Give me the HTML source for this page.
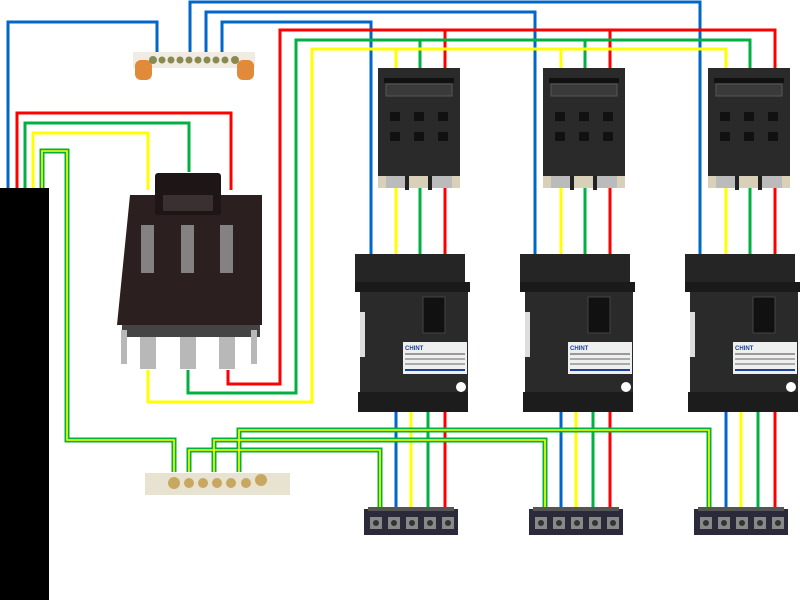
<!DOCTYPE html>
<html><head><meta charset="utf-8"><style>
html,body{margin:0;padding:0;background:#fff;width:800px;height:600px;overflow:hidden}
svg{display:block}
</style></head><body>
<svg width="800" height="600" viewBox="0 0 800 600" xmlns="http://www.w3.org/2000/svg" font-family="Liberation Sans, sans-serif">
<defs>
<g id="fuse">
  <rect x="0" y="0" width="82" height="108" fill="#2a2a2a"/>
  <rect x="6" y="10" width="70" height="5" fill="#111"/>
  <rect x="8" y="16" width="66" height="12" fill="#3a3a3a" stroke="#555"/>
  <g fill="#111">
    <rect x="12" y="44" width="10" height="9"/><rect x="36" y="44" width="10" height="9"/><rect x="60" y="44" width="10" height="9"/>
    <rect x="12" y="64" width="10" height="9"/><rect x="36" y="64" width="10" height="9"/><rect x="60" y="64" width="10" height="9"/>
  </g>
  <rect x="0" y="108" width="82" height="12" fill="#d8d0b8"/>
  <rect x="8" y="108" width="22" height="12" fill="#bbb"/>
  <rect x="52" y="108" width="22" height="12" fill="#bbb"/>
  <rect x="27" y="108" width="4" height="14" fill="#222"/><rect x="50" y="108" width="4" height="14" fill="#222"/>
</g>
<g id="rcd">
  <rect x="0" y="2" width="110" height="28" fill="#252525"/>
  <rect x="0" y="30" width="115" height="10" fill="#1a1a1a"/>
  <rect x="5" y="40" width="108" height="115" fill="#2a2a2a"/>
  <rect x="3" y="140" width="110" height="20" fill="#1c1c1c"/>
  <rect x="5" y="60" width="5" height="45" fill="#ddd"/>
  <rect x="68" y="45" width="22" height="36" fill="#111" stroke="#444"/>
  <rect x="48" y="90" width="64" height="32" fill="#eef0f0"/>
  <text x="50" y="98" font-size="6" fill="#1a3ea0" font-weight="bold">CHINT</text>
  <rect x="50" y="101" width="60" height="2" fill="#999"/><rect x="50" y="106" width="60" height="2" fill="#aaa"/>
  <rect x="50" y="111" width="60" height="2" fill="#aaa"/><rect x="50" y="117" width="60" height="2" fill="#2040a0"/>
  <circle cx="106" cy="135" r="5" fill="#fff"/>
</g>
<g id="tb">
  <rect x="0" y="2" width="94" height="26" fill="#2a2a3a"/>
  <rect x="4" y="0" width="86" height="4" fill="#555"/>
  <g fill="#888"><rect x="6" y="10" width="12" height="12"/><rect x="24" y="10" width="12" height="12"/><rect x="42" y="10" width="12" height="12"/><rect x="60" y="10" width="12" height="12"/><rect x="78" y="10" width="12" height="12"/></g>
  <g fill="#333"><circle cx="12" cy="16" r="3"/><circle cx="30" cy="16" r="3"/><circle cx="48" cy="16" r="3"/><circle cx="66" cy="16" r="3"/><circle cx="84" cy="16" r="3"/></g>
</g>
</defs>

<!-- wires -->
<g fill="none" stroke-width="3" stroke-linejoin="miter">
  <!-- blue -->
  <g stroke="#0066c8">
    <polyline points="8,190 8,22 157,22 157,52"/>
    <polyline points="190,52 190,2 700,2 700,255"/>
    <polyline points="206,52 206,12 535,12 535,255"/>
    <polyline points="222,52 222,22 371,22 371,255"/>
    <line x1="396" y1="412" x2="396" y2="508"/><line x1="561" y1="412" x2="561" y2="508"/><line x1="726" y1="412" x2="726" y2="508"/>
  </g>
  <!-- red -->
  <g stroke="#ff0000">
    <polyline points="17,190 17,113 231,113 231,190"/>
    <polyline points="228,370 228,384 280,384 280,30 775,30 775,68"/>
    <line x1="445" y1="30" x2="445" y2="68"/><line x1="610" y1="30" x2="610" y2="68"/>
    <line x1="445" y1="188" x2="445" y2="255"/><line x1="610" y1="188" x2="610" y2="255"/><line x1="775" y1="188" x2="775" y2="255"/>
    <line x1="445" y1="412" x2="445" y2="508"/><line x1="610" y1="412" x2="610" y2="508"/><line x1="775" y1="412" x2="775" y2="508"/>
  </g>
  <!-- green -->
  <g stroke="#00b040">
    <polyline points="25,190 25,123 189,123 189,172"/>
    <polyline points="188,370 188,393 296,393 296,40 750,40 750,68"/>
    <line x1="420" y1="40" x2="420" y2="68"/><line x1="585" y1="40" x2="585" y2="68"/>
    <line x1="420" y1="188" x2="420" y2="255"/><line x1="585" y1="188" x2="585" y2="255"/><line x1="750" y1="188" x2="750" y2="255"/>
    <line x1="428" y1="412" x2="428" y2="508"/><line x1="593" y1="412" x2="593" y2="508"/><line x1="758" y1="412" x2="758" y2="508"/>
  </g>
  <!-- yellow -->
  <g stroke="#ffff00">
    <polyline points="33,190 33,133 148,133 148,190"/>
    <polyline points="148,370 148,402 312,402 312,49 726,49 726,68"/>
    <line x1="396" y1="49" x2="396" y2="68"/><line x1="561" y1="49" x2="561" y2="68"/>
    <line x1="396" y1="188" x2="396" y2="255"/><line x1="561" y1="188" x2="561" y2="255"/><line x1="726" y1="188" x2="726" y2="255"/>
    <line x1="411" y1="412" x2="411" y2="508"/><line x1="576" y1="412" x2="576" y2="508"/><line x1="741" y1="412" x2="741" y2="508"/>
  </g>
</g>
<!-- PE green/yellow -->
<g fill="none" stroke-linejoin="miter">
  <g stroke="#00b040" stroke-width="5">
    <polyline points="42,190 42,151 67,151 67,440 174,440 174,472"/>
    <polyline points="189,472 189,450 380,450 380,508"/>
    <polyline points="214,472 214,440 545,440 545,508"/>
    <polyline points="239,472 239,430 709,430 709,508"/>
  </g>
  <g stroke="#ffff00" stroke-width="1.6">
    <polyline points="42,190 42,151 67,151 67,440 174,440 174,472"/>
    <polyline points="189,472 189,450 380,450 380,508"/>
    <polyline points="214,472 214,440 545,440 545,508"/>
    <polyline points="239,472 239,430 709,430 709,508"/>
  </g>
</g>

<!-- black block -->
<rect x="0" y="188" width="49" height="412" fill="#000"/>

<!-- top busbar -->
<rect x="133" y="52" width="122" height="16" fill="#f0ece4"/>
<g fill="#e08a3a"><rect x="135" y="60" width="17" height="20" rx="6"/><rect x="237" y="60" width="17" height="20" rx="6"/></g>
<g fill="#8a8a50"><circle cx="153" cy="60" r="4"/><circle cx="162" cy="60" r="3.5"/><circle cx="171" cy="60" r="3.5"/><circle cx="180" cy="60" r="3.5"/><circle cx="189" cy="60" r="3.5"/><circle cx="198" cy="60" r="3.5"/><circle cx="207" cy="60" r="3.5"/><circle cx="216" cy="60" r="3.5"/><circle cx="225" cy="60" r="3.5"/><circle cx="235" cy="60" r="4"/></g>

<!-- isolator switch -->
<polygon points="130,195 262,195 262,325 117,325" fill="#2b1f1f"/>
<rect x="155" y="173" width="66" height="42" rx="3" fill="#1e1616"/>
<rect x="163" y="195" width="50" height="16" fill="#3a3030"/>
<g fill="#9a9a9a" opacity="0.8"><rect x="141" y="225" width="13" height="48"/><rect x="181" y="225" width="13" height="48"/><rect x="220" y="225" width="13" height="48"/></g>
<rect x="122" y="325" width="138" height="12" fill="#444"/>
<g fill="#b8b8b8"><rect x="140" y="337" width="16" height="32"/><rect x="180" y="337" width="16" height="32"/><rect x="219" y="337" width="16" height="32"/><rect x="121" y="330" width="6" height="34"/><rect x="251" y="330" width="6" height="34"/></g>

<!-- fuses -->
<use href="#fuse" x="378" y="68"/><use href="#fuse" x="543" y="68"/><use href="#fuse" x="708" y="68"/>
<!-- rcds -->
<use href="#rcd" x="355" y="252"/><use href="#rcd" x="520" y="252"/><use href="#rcd" x="685" y="252"/>

<!-- bottom PE bus -->
<rect x="145" y="473" width="145" height="22" fill="#e8e2d0"/>
<g fill="#c8a860"><circle cx="174" cy="483" r="6"/><circle cx="189" cy="483" r="5"/><circle cx="203" cy="483" r="5"/><circle cx="217" cy="483" r="5"/><circle cx="231" cy="483" r="5"/><circle cx="246" cy="483" r="5"/><circle cx="261" cy="480" r="6"/></g>

<!-- terminal blocks -->
<use href="#tb" x="364" y="507"/><use href="#tb" x="529" y="507"/><use href="#tb" x="694" y="507"/>
</svg>
</body></html>
